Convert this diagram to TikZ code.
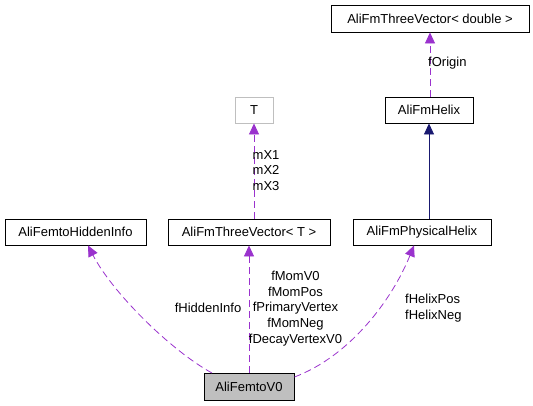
\documentclass[tikz,border=0pt]{standalone}
\usepackage{fontspec}
\setmainfont{Liberation Sans}
\usepackage{tikz}
\usetikzlibrary{arrows.meta, positioning}
\definecolor{usecol}{HTML}{9A32CD}
\definecolor{inhcol}{HTML}{191970}
\definecolor{boxgray}{HTML}{BFBFBF}
\tikzstyle{cls} = [rectangle, draw=black, line width=0.9pt, minimum height=26pt, inner sep=0pt, text centered, font=\fontsize{13}{15.7}\selectfont]
\tikzstyle{lbl} = [inner sep=0pt, font=\fontsize{13}{15.7}\selectfont]

\begin{document}
\begin{tikzpicture}[x=1pt, y=-1pt]
        \tikzstyle{uses} = [usecol, line width=0.8pt, dash pattern=on 7pt off 4pt, -{Triangle[width=10pt,length=11pt]}]
        \tikzstyle{inherits} = [inhcol, line width=0.8pt, -{Triangle[width=10pt,length=11pt]}]
        \useasboundingbox (0,0) rectangle (533,405);

        \node[cls, minimum width=198pt, minimum height=27pt] (vecDouble) at (430,18.5) {AliFmThreeVector< double >};
        \node[cls, draw=boxgray, minimum width=38pt] (tmpl) at (254,110) {T};
        \node[cls, minimum width=88pt] (helix) at (429,110) {AliFmHelix};

        \node[cls, minimum width=141pt] (hidden) at (75.5,232) {AliFemtoHiddenInfo};
        \node[cls, minimum width=162pt] (vecT) at (249,232) {AliFmThreeVector< T >};
        \node[cls, minimum width=138pt] (physHelix) at (422,232) {AliFmPhysicalHelix};

        \node[cls, fill=boxgray, minimum width=90pt, minimum height=27pt] (v0) at (249,386.5) {AliFemtoV0};

        \draw[uses] (helix.north-|vecDouble) -- (vecDouble.south);
        \draw[inherits] (physHelix.north-|helix) -- (helix.south);
        \draw[uses] (vecT.north-|tmpl) -- (tmpl.south);
        \draw[uses] (v0.north-|vecT) -- (vecT.south);
        \draw[uses] (212,373) .. controls (170,350) and (112,292) .. (hidden.south-|88,0);
        \draw[uses] (v0.east|-0,377) .. controls (350,356) and (392,300) .. (physHelix.south-|414,0);

        \node[lbl, anchor=west] (lOrigin) at (428,63) {fOrigin};
        \node[lbl, anchor=west, align=left] (lMx) at (252.5,170.5) {mX1\\mX2\\mX3};
        \node[lbl, anchor=east] (lHidden) at (241.5,308) {fHiddenInfo};
        \node[lbl, align=center] (lVecT) at (295.5,308.5) {fMomV0\\fMomPos\\fPrimaryVertex\\fMomNeg\\fDecayVertexV0};
        \node[lbl, anchor=west, align=left] (lHelix) at (405,308) {fHelixPos\\fHelixNeg};

    \end{tikzpicture}
\end{document}
